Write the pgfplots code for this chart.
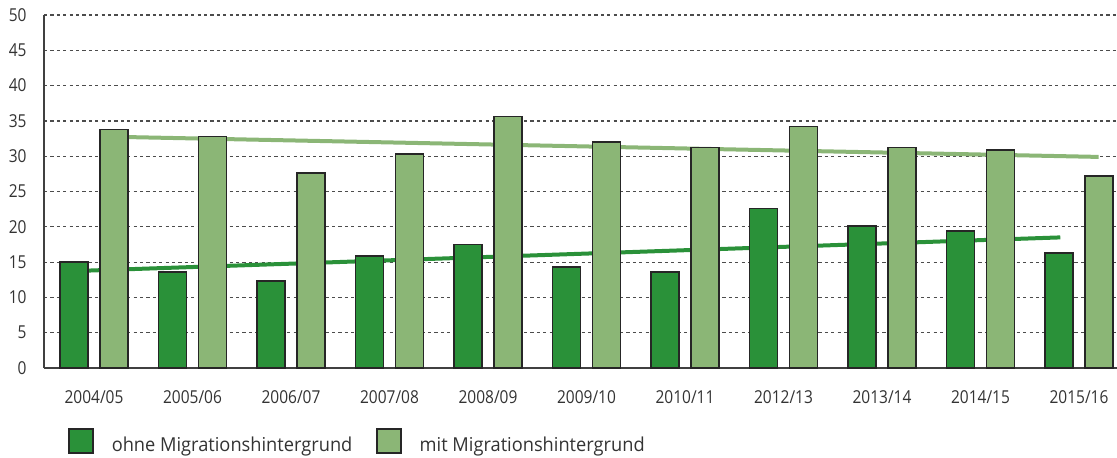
\documentclass[border=0pt]{standalone}
\usepackage{fontspec}
\setmainfont{Open Sans}[FakeStretch=0.87]
\newfontfamily\legfont{Open Sans}[FakeStretch=0.95]
\usepackage{pgfplots}
\pgfplotsset{compat=1.18}
\definecolor{darkgreen}{HTML}{2A9139}
\definecolor{lightgreen}{HTML}{8BB676}
\definecolor{textgray}{HTML}{333333}

% Schuljahre auf 0..10
\pgfplotstableread{
x ohne mit
0 15.0 33.8
1 13.6 32.8
2 12.3 27.6
3 15.9 30.3
4 17.5 35.6
5 14.3 32.0
6 13.6 31.2
7 22.6 34.2
8 20.1 31.2
9 19.4 30.9
10 16.3 27.2
}\datatable

\begin{document}
\begin{tikzpicture}
\begin{axis}[
    scale only axis,
    width=536.5pt, height=176.5pt,
    at={(0,0)}, anchor=south west,
    xmin=-0.508, xmax=10.386,
    ymin=0, ymax=50,
    ytick={0,5,...,50},
    xtick={0,...,10},
    xticklabels={2004/05,2005/06,2006/07,2007/08,2008/09,2009/10,2010/11,2012/13,2013/14,2014/15,2015/16},
    /pgf/number format/assume math mode=true,
    axis x line*=bottom, axis y line*=left,
    axis line style={color=black!75, line width=0.75pt, -},
    major tick length=0pt,
    ymajorgrids,
    grid style={black!70, line width=0.6pt, dash pattern=on 1.6pt off 1.6pt},
    yticklabel style={font=\fontsize{8.9}{10}\selectfont, text=textgray, anchor=east, inner sep=0pt, xshift=-8.5pt},
    xticklabel style={font=\fontsize{8.9}{10}\selectfont, text=textgray, anchor=north, inner sep=0pt, yshift=-11pt},
    legend style={at={(0.02237,-0.2085)}, anchor=west, draw=none, fill=none, inner sep=0pt,
        legend columns=2, font=\legfont\fontsize{9.6}{11}\selectfont, text=textgray,
        nodes={inner sep=0pt},
        /tikz/every even column/.append style={column sep=12pt}},
    legend cell align=left,
    legend image code/.code={
        \draw[#1, line width=0.6pt] (0pt,-3.5pt) rectangle (12pt,8.5pt);
        \path (21pt,0pt);},
]
% Trendlinien (hinter den Balken)
\addplot[forget plot, lightgreen, line width=2pt] coordinates {(0.203,32.75) (10.2,29.9)};
\addplot[forget plot, darkgreen, line width=2pt] coordinates {(-0.203,13.73) (9.81,18.5)};
% Balken
\addplot[ybar, bar width=14pt, bar shift=-10pt, fill=darkgreen, draw=black!85, line width=0.75pt]
    table[x=x, y=ohne] {\datatable};
\addplot[ybar, bar width=14pt, bar shift=10pt, fill=lightgreen, draw=black!85, line width=0.75pt]
    table[x=x, y=mit] {\datatable};
\legend{ohne Migrationshintergrund, mit Migrationshintergrund}
\end{axis}
\pgfresetboundingbox
\path (-22pt,-44.5pt) rectangle (536.5pt,184pt);
\end{tikzpicture}
\end{document}
